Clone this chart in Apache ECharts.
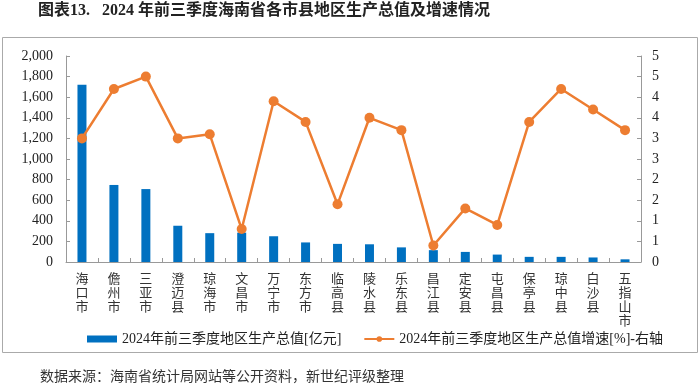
<!DOCTYPE html>
<html><head><meta charset="utf-8">
<script src="https://cdn.jsdelivr.net/npm/echarts@6/dist/echarts.min.js"></script>
<style>html,body{margin:0;padding:0;background:#fff}#c{width:700px;height:385px}</style>
</head><body><div id="c"></div>
<script>
const categories = ['海口市','儋州市','三亚市','澄迈县','琼海市','文昌市','万宁市','东方市','临高县','陵水县','乐东县','昌江县','定安县','屯昌县','保亭县','琼中县','白沙县','五指山市'];
const gdp = [1720, 748, 708, 352, 280, 285, 250, 190, 176, 172, 142, 115, 98, 72, 50, 50, 44, 26];
const growth = [3.0, 4.2, 4.5, 3.0, 3.1, 0.8, 3.9, 3.4, 1.4, 3.5, 3.2, 0.4, 1.3, 0.9, 3.4, 4.2, 3.7, 3.2];
const leftTicks = {min: 0, max: 2000, interval: 200};
const rightTicks = {min: 0, max: 5, interval: 0.5};
const nameBar = '2024年前三季度地区生产总值[亿元]';
const nameLine = '2024年前三季度地区生产总值增速[%]-右轴';
const titleText = '图表13.   2024 年前三季度海南省各市县地区生产总值及增速情况';
const sourceText = '数据来源：海南省统计局网站等公开资料，新世纪评级整理';
</script>
<script>
const chart = echarts.init(document.getElementById('c'), null, {renderer: 'canvas'});
const serif = "'Liberation Serif','Noto Sans CJK SC',serif";
const axisLineStyle = {color: '#999', width: 1};
chart.setOption({
  animation: false,
  graphic: [
    {type: 'rect', shape: {x: 2.5, y: 37.5, width: 695, height: 315}, style: {fill: 'none', stroke: '#aaa', lineWidth: 1}, z: -1},
    {type: 'text', left: 38, top: 3, style: {text: titleText, font: "bold 16px 'Liberation Serif','Noto Sans CJK SC',serif", fill: '#222'}},
    {type: 'text', left: 40, top: 369, style: {text: sourceText, font: "14px 'Noto Sans CJK SC',sans-serif", fill: '#333'}}
  ],
  grid: {left: 66, right: 59, top: 56, bottom: 123},
  legend: {
    left: 82, top: 327, itemGap: 22, itemWidth: 30, itemHeight: 7,
    textStyle: {fontFamily: serif, fontSize: 14, color: '#222'},
    data: [
      {name: nameBar, icon: 'rect'},
      {name: nameLine}
    ]
  },
  xAxis: {
    type: 'category', data: categories,
    axisLine: {lineStyle: axisLineStyle},
    axisTick: {show: true, inside: true, length: 4, lineStyle: {color: '#999'}},
    axisLabel: {
      interval: 0, margin: 9, color: '#333', fontFamily: "'Noto Sans CJK SC',sans-serif", fontSize: 13, lineHeight: 14,
      formatter: v => v.split('').join('\n')
    }
  },
  yAxis: [
    {type: 'value', min: leftTicks.min, max: leftTicks.max, interval: leftTicks.interval,
     axisLine: {show: true, lineStyle: axisLineStyle},
     axisTick: {show: true, inside: true, length: 4, lineStyle: {color: '#999'}},
     splitLine: {show: false},
     axisLabel: {color: '#222', fontFamily: serif, fontSize: 14, margin: 13,
       formatter: v => v.toLocaleString('en-US')}},
    {type: 'value', min: rightTicks.min, max: rightTicks.max, interval: rightTicks.interval,
     axisLine: {show: true, lineStyle: axisLineStyle},
     axisTick: {show: true, inside: true, length: 4, lineStyle: {color: '#999'}},
     splitLine: {show: false},
     axisLabel: {color: '#222', fontFamily: serif, fontSize: 14, margin: 11,
       formatter: v => String(Math.round(v + 1e-9))}}
  ],
  series: [
    {name: nameBar, type: 'bar', data: gdp, barWidth: 9, itemStyle: {color: '#0070C0'}, yAxisIndex: 0},
    {name: nameLine, type: 'line', data: growth, yAxisIndex: 1, symbol: 'circle', symbolSize: 10,
     lineStyle: {color: '#ED7D31', width: 2.5}, itemStyle: {color: '#ED7D31'}, z: 3}
  ]
});
</script>
</body></html>
